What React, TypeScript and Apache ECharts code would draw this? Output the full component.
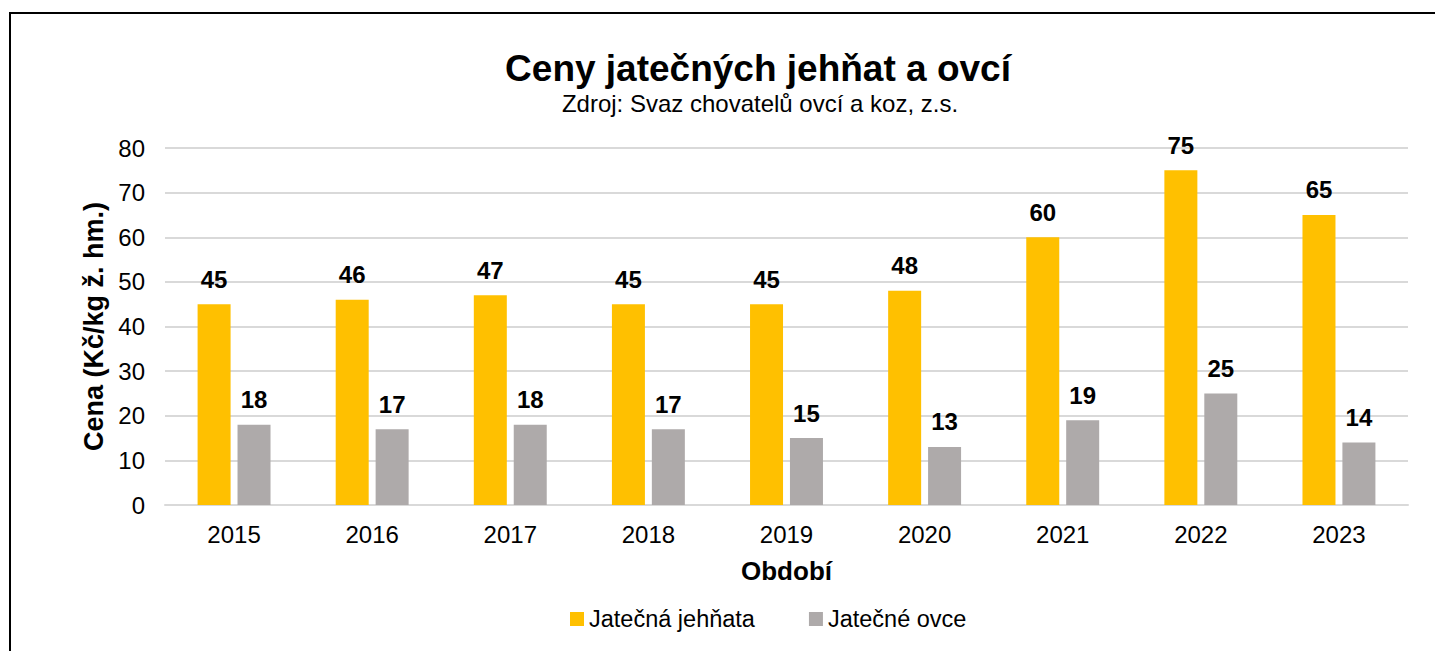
import React, { useEffect, useRef } from "react";
import * as echarts from "echarts";

const years = ["2015", "2016", "2017", "2018", "2019", "2020", "2021", "2022", "2023"];
const lambs = [45, 46, 47, 45, 45, 48, 60, 75, 65];
const sheep = [18, 17, 18, 17, 15, 13, 19, 25, 14];
const yTicks = [0, 10, 20, 30, 40, 50, 60, 70, 80];

const TITLE = "Ceny jatečných jehňat a ovcí";
const SUBTITLE = "Zdroj: Svaz chovatelů ovcí a koz, z.s.";

const FONT = "'Liberation Sans', Arial, sans-serif";

export default function App() {
  const ref = useRef<HTMLDivElement>(null);
  useEffect(() => {
    document.body.style.margin = "0";
    const chart = echarts.init(ref.current!, null, { renderer: "svg" });
    const label = {
      show: true,
      position: "top" as const,
      distance: 13,
      color: "#000",
      fontWeight: "bold" as const,
      fontSize: 24,
      fontFamily: FONT,
    };
    chart.setOption({
      animation: false,
      backgroundColor: "#fff",
      textStyle: { fontFamily: FONT },
      graphic: [
        {
          type: "rect",
          shape: { x: 10, y: 13, width: 1500, height: 700 },
          style: { fill: "none", stroke: "#000", lineWidth: 2 },
          silent: true,
        },
        {
          type: "text",
          x: 758,
          y: 68,
          style: {
            text: TITLE,
            fill: "#000",
            font: `bold 37px ${FONT}`,
            textAlign: "center",
            textVerticalAlign: "middle",
          },
        },
        {
          type: "text",
          x: 760,
          y: 103,
          style: {
            text: SUBTITLE,
            fill: "#000",
            font: `24px ${FONT}`,
            textAlign: "center",
            textVerticalAlign: "middle",
          },
        },
      ],
      legend: {
        bottom: 15,
        left: 565,
        itemWidth: 14,
        itemHeight: 14,
        itemGap: 54,
        icon: "rect",
        textStyle: { fontSize: 23.5, color: "#000", fontFamily: FONT },
        data: ["Jatečná jehňata", "Jatečné ovce"],
      },
      grid: { left: 165, right: 27, top: 148, bottom: 146 },
      xAxis: {
        type: "category",
        data: years,
        name: "Období",
        nameLocation: "middle",
        nameGap: 53,
        nameTextStyle: { fontSize: 26, fontWeight: "bold", color: "#000", fontFamily: FONT },
        axisLine: { lineStyle: { color: "#d9d9d9", width: 2 } },
        axisTick: { show: false },
        axisLabel: { fontSize: 24, color: "#000", margin: 17, fontFamily: FONT },
      },
      yAxis: {
        type: "value",
        min: yTicks[0],
        max: yTicks[yTicks.length - 1],
        interval: 10,
        name: "Cena (Kč/kg ž. hm.)",
        nameLocation: "middle",
        nameGap: 58,
        nameTextStyle: { fontSize: 27, fontWeight: "bold", color: "#000", fontFamily: FONT },
        axisLine: { show: false },
        axisTick: { show: false },
        axisLabel: { fontSize: 24, color: "#000", margin: 20, fontFamily: FONT },
        splitLine: { lineStyle: { color: "#d9d9d9", width: 2 } },
      },
      series: [
        {
          name: "Jatečná jehňata",
          type: "bar",
          data: lambs,
          barWidth: 33,
          barGap: "21%",
          itemStyle: { color: "#FFC000" },
          label,
        },
        {
          name: "Jatečné ovce",
          type: "bar",
          data: sheep,
          barWidth: 33,
          barGap: "21%",
          itemStyle: { color: "#AEAAAA" },
          label,
        },
      ],
    });
    return () => chart.dispose();
  }, []);
  return <div ref={ref} style={{ width: 1435, height: 651 }} />;
}
